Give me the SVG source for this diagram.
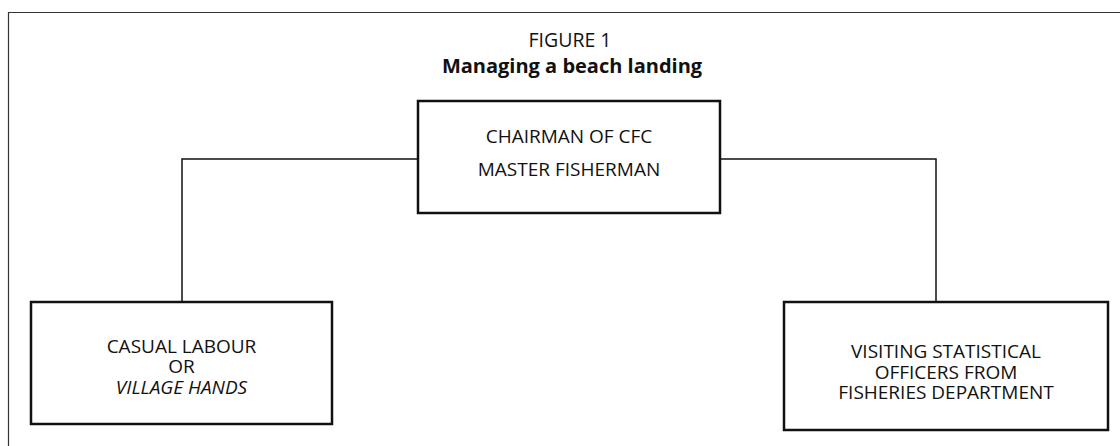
<svg xmlns="http://www.w3.org/2000/svg" width="1120" height="446" viewBox="0 0 1120 446">
<style>
text{font-family:"Open Sans","Liberation Sans",sans-serif;fill:#111;text-anchor:middle}
.t{font-size:19.5px}
.h{font-size:20px;font-weight:bold}
.n{font-size:19px}
.box{fill:#fff;stroke:#111;stroke-width:2.5}
.c{fill:none;stroke:#111;stroke-width:1.5}
</style>
<rect width="1120" height="446" fill="#fff"/>
<path d="M8.5 446V12.5H1120" fill="none" stroke="#333" stroke-width="1.2"/>
<text class="t" x="570" y="47">FIGURE 1</text>
<text class="h" x="572" y="73">Managing a beach landing</text>
<g id="connectors">
<path class="c" d="M417 159H182V302"/>
<path class="c" d="M720 159H936V302"/>
</g>
<g id="chairman">
<rect class="box" x="418" y="101" width="302" height="112"/>
<text class="n" x="569" y="143">CHAIRMAN OF CFC</text>
<text class="n" x="569" y="176">MASTER FISHERMAN</text>
</g>
<g id="casual">
<rect class="box" x="31" y="302" width="301" height="122"/>
<text class="n" x="181.5" y="353">CASUAL LABOUR</text>
<text class="n" x="181.5" y="373">OR</text>
<text class="n" x="181.5" y="394" font-style="italic">VILLAGE HANDS</text>
</g>
<g id="visiting">
<rect class="box" x="784" y="302" width="324" height="128"/>
<text class="n" x="946" y="358">VISITING STATISTICAL</text>
<text class="n" x="946" y="379">OFFICERS FROM</text>
<text class="n" x="946" y="399">FISHERIES DEPARTMENT</text>
</g>
</svg>
